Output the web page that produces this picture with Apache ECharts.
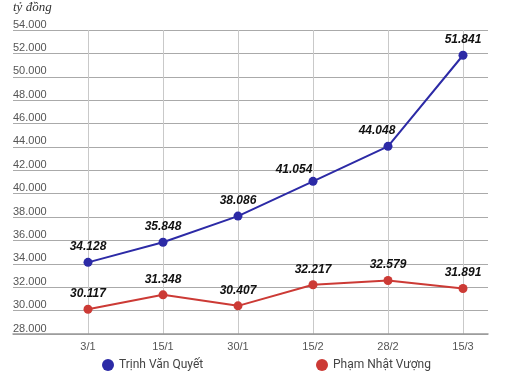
<!DOCTYPE html>
<html>
<head>
<meta charset="utf-8">
<script src="https://cdn.jsdelivr.net/npm/echarts@6/dist/echarts.min.js"></script>
<style>html,body{margin:0;padding:0;background:#fff}#c{width:514px;height:372px}</style>
</head>
<body>
<div id="c"></div>
<script>
const categories = ['3/1', '15/1', '30/1', '15/2', '28/2', '15/3'];
const seriesNames = ['Trịnh Văn Quyết', 'Phạm Nhật Vượng'];
const quyetValues = [34128, 35848, 38086, 41054, 44048, 51841];
const vuongValues = [30117, 31348, 30407, 32217, 32579, 31891];
const yTicks = { min: 28000, max: 54000, interval: 2000 };
const unitLabel = 'tỷ đồng';

const colors = ['#2c2aa6', '#cc3a35'];
const fmt = v => String(v).replace(/\B(?=(\d{3})+(?!\d))/g, '.');
// label nudges for crowded points (style only)
const labelNudge = { 0: { 3: [-19, 4], 4: [-11, 0] }, 1: {} };

function buildData(values, si) {
  return values.map((v, i) => {
    const item = { value: [i, v] };
    if (labelNudge[si][i]) item.label = { offset: labelNudge[si][i] };
    return item;
  });
}

const legendText = { fontFamily: 'Roboto', fontSize: 12, color: '#444' };
const chart = echarts.init(document.getElementById('c'), null, { renderer: 'canvas' });
chart.setOption({
  animation: false,
  backgroundColor: '#fff',
  title: {
    text: unitLabel, left: 13, top: 1, padding: 0,
    textStyle: { fontFamily: 'Liberation Serif', fontStyle: 'italic', fontWeight: 'normal', fontSize: 13, color: '#333' }
  },
  legend: [
    { data: [seriesNames[0]], left: 102, top: 359, padding: 0, icon: 'circle', itemWidth: 12, itemHeight: 12, itemGap: 8, textStyle: legendText },
    { data: [seriesNames[1]], left: 316, top: 359, padding: 0, icon: 'circle', itemWidth: 12, itemHeight: 12, itemGap: 8, textStyle: legendText }
  ],
  grid: { left: 13, right: 26, top: 30, bottom: 38, containLabel: false },
  xAxis: {
    type: 'value', min: -1, max: categories.length - 1 + 1 / 3, interval: 1,
    axisLine: { show: true, lineStyle: { color: '#999', width: 1.5 } },
    axisTick: { show: false },
    axisLabel: {
      margin: 7, color: '#555', fontFamily: 'Liberation Sans', fontSize: 11,
      showMinLabel: false, showMaxLabel: false,
      formatter: v => (Number.isInteger(v) && v >= 0 && v < categories.length) ? categories[v] : ''
    },
    splitLine: { show: true, showMinLine: false, showMaxLine: false, lineStyle: { color: '#c9c9c9', width: 1 } }
  },
  yAxis: {
    type: 'value', min: yTicks.min, max: yTicks.max, interval: yTicks.interval,
    axisLine: { show: false }, axisTick: { show: false },
    axisLabel: {
      inside: true, margin: 0, align: 'left', verticalAlign: 'bottom',
      color: '#555', fontFamily: 'Liberation Sans', fontSize: 11,
      formatter: v => fmt(v)
    },
    splitLine: { show: true, lineStyle: { color: '#aaa', width: 1 } }
  },
  series: [quyetValues, vuongValues].map((vals, si) => ({
    name: seriesNames[si], type: 'line', data: buildData(vals, si),
    symbol: 'circle', symbolSize: 9,
    itemStyle: { color: colors[si] },
    lineStyle: { color: colors[si], width: 2 },
    label: {
      show: true, position: 'top', distance: 5,
      fontFamily: 'Liberation Sans', fontStyle: 'italic', fontWeight: 'bold', fontSize: 12, color: '#111',
      formatter: p => fmt(p.value[1])
    }
  }))
});
</script>
</body>
</html>
